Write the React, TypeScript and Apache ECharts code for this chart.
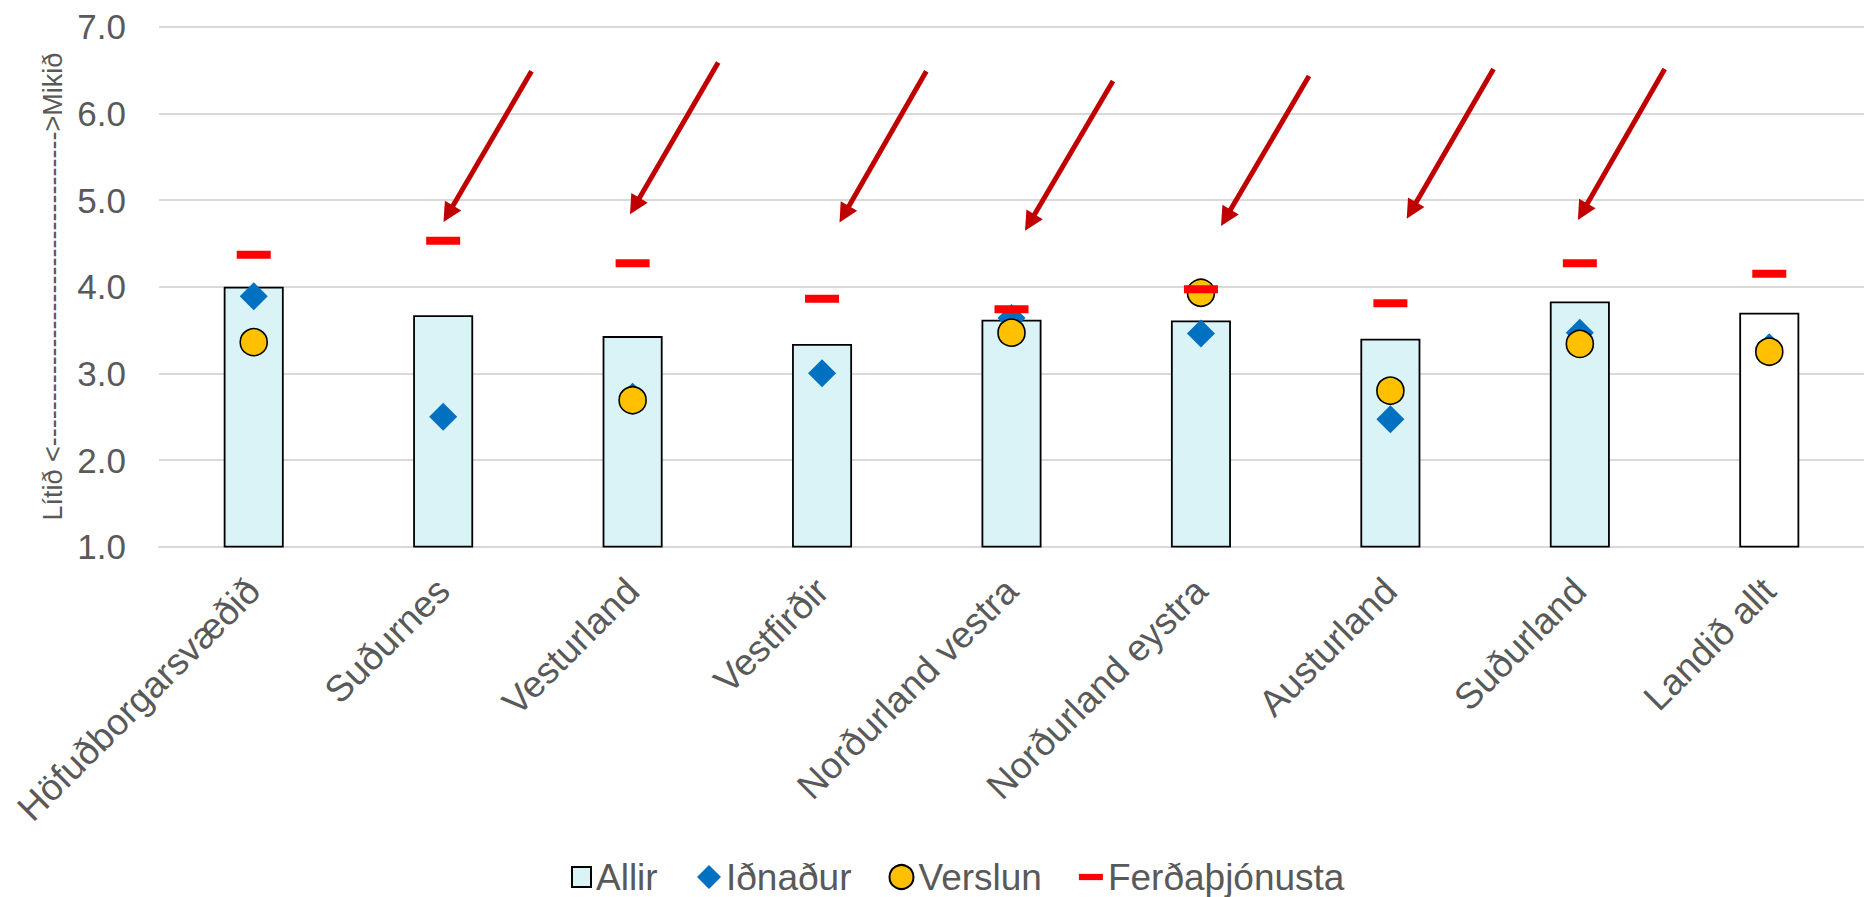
import React, { useEffect, useRef } from "react";
import * as echarts from "echarts";

const categories = [
  "Höfuðborgarsvæðið",
  "Suðurnes",
  "Vesturland",
  "Vestfirðir",
  "Norðurland vestra",
  "Norðurland eystra",
  "Austurland",
  "Suðurland",
  "Landið allt",
];
const allir = [4.0, 3.67, 3.43, 3.34, 3.62, 3.61, 3.4, 3.83, 3.7];
const idnadur = [3.89, 2.5, 2.73, 3.0, 3.64, 3.46, 2.47, 3.47, 3.3];
const verslun: (number | null)[] = [3.36, null, 2.69, null, 3.47, 3.93, 2.8, 3.34, 3.25];
const ferdathjonusta = [4.37, 4.53, 4.27, 3.86, 3.74, 3.97, 3.81, 4.27, 4.15];
const seriesNames = ["Allir", "Iðnaður", "Verslun", "Ferðaþjónusta"];
const yMin = 1;
const yMax = 7;
const yInterval = 1;
const yAxisName = "Lítið <" + "-".repeat(35) + ">Mikið";

// annotation arrows (pixel layout)
const arrowTails = [
  [531.5, 71.3],
  [718.2, 62.5],
  [926.3, 71.3],
  [1113, 80.9],
  [1309, 76.1],
  [1493.5, 69],
  [1664.7, 69],
];
const arrowTips = [
  [443.5, 222],
  [630, 214.3],
  [839.5, 222.4],
  [1025, 230.7],
  [1221, 226],
  [1406.7, 218.8],
  [1577.9, 220],
];

const FONT = "'Liberation Sans', Arial, sans-serif";
const TEXT = "#595959";

function buildArrows() {
  const out: any[] = [];
  const headLen = 19;
  const headHalf = 9.5;
  arrowTails.forEach((t, i) => {
    const p = arrowTips[i];
    const dx = p[0] - t[0];
    const dy = p[1] - t[1];
    const len = Math.sqrt(dx * dx + dy * dy);
    const ux = dx / len;
    const uy = dy / len;
    const bx = p[0] - ux * headLen;
    const by = p[1] - uy * headLen;
    const nx = -uy;
    const ny = ux;
    out.push({
      type: "line",
      shape: { x1: t[0], y1: t[1], x2: bx + ux * 2, y2: by + uy * 2 },
      style: { stroke: "#C00000", lineWidth: 5 },
      z: 100,
    });
    out.push({
      type: "polygon",
      shape: {
        points: [
          [p[0], p[1]],
          [bx + nx * headHalf, by + ny * headHalf],
          [bx - nx * headHalf, by - ny * headHalf],
        ],
      },
      style: { fill: "#C00000" },
      z: 100,
    });
  });
  return out;
}

export default function App() {
  const ref = useRef<HTMLDivElement>(null);
  useEffect(() => {
    if (!ref.current) return;
    const chart = echarts.init(ref.current, null, { renderer: "svg" });
    const lastIdx = categories.length - 1;
    const legendText = { fontSize: 37, color: TEXT, fontFamily: FONT, lineHeight: 40 };
    chart.setOption({
      animation: false,
      backgroundColor: "#ffffff",
      textStyle: { fontFamily: FONT },
      grid: { left: 159, top: 26.7, width: 1719, height: 520, containLabel: false },
      legend: [
        {
          data: [{ name: seriesNames[0], icon: "rect" }],
          left: 571,
          top: 857,
          padding: 0,
          itemWidth: 19,
          itemHeight: 20,
          textStyle: legendText,
        },
        {
          data: [
            { name: seriesNames[1], icon: "diamond" },
            { name: seriesNames[2], icon: "circle" },
            { name: seriesNames[3], icon: "path://M0 0H23V6H0Z" },
          ],
          left: 697,
          top: 857,
          padding: 0,
          itemGap: 37,
          itemWidth: 24,
          itemHeight: 24,
          textStyle: legendText,
        },
      ],
      xAxis: {
        type: "category",
        data: categories,
        boundaryGap: true,
        axisLine: { show: true, lineStyle: { color: "#D9D9D9", width: 2 } },
        axisTick: { show: false },
        axisLabel: {
          rotate: 45,
          interval: 0,
          margin: 38,
          fontSize: 37,
          color: TEXT,
          fontFamily: FONT,
        },
      },
      yAxis: {
        type: "value",
        min: yMin,
        max: yMax,
        interval: yInterval,
        name: yAxisName,
        nameLocation: "middle",
        nameRotate: 90,
        nameGap: 93,
        nameTextStyle: { fontSize: 27, color: TEXT, fontFamily: FONT },
        axisLine: { show: false },
        axisTick: { show: false },
        splitLine: { lineStyle: { color: "#D9D9D9", width: 2 } },
        axisLabel: {
          margin: 33,
          fontSize: 35,
          color: TEXT,
          fontFamily: FONT,
          formatter: (v: number) => v.toFixed(1),
        },
      },
      series: [
        {
          name: seriesNames[0],
          type: "bar",
          barWidth: 60,
          data: allir.map((v, i) =>
            i === lastIdx ? { value: v, itemStyle: { color: "#FFFFFF" } } : v
          ),
          itemStyle: { color: "#DAF3F7", borderColor: "#000000", borderWidth: 1.8 },
          z: 2,
        },
        {
          name: seriesNames[1],
          type: "scatter",
          symbol: "diamond",
          symbolSize: 28,
          data: idnadur,
          itemStyle: { color: "#0070C0", opacity: 1 },
          z: 3,
        },
        {
          name: seriesNames[2],
          type: "scatter",
          symbol: "circle",
          symbolSize: 27,
          data: verslun.map((v) => (v === null ? "-" : v)),
          itemStyle: { color: "#FFC000", borderColor: "#000000", borderWidth: 1.6, opacity: 1 },
          z: 4,
        },
        {
          name: seriesNames[3],
          type: "scatter",
          symbol: "rect",
          symbolSize: [34, 8],
          data: ferdathjonusta,
          itemStyle: { color: "#FF0000", opacity: 1 },
          z: 5,
        },
      ],
      graphic: buildArrows(),
    });
    return () => chart.dispose();
  }, []);
  return (
    <div
      ref={ref}
      style={{ position: "fixed", left: 0, top: 0, width: 1864, height: 897, background: "#fff" }}
    />
  );
}
